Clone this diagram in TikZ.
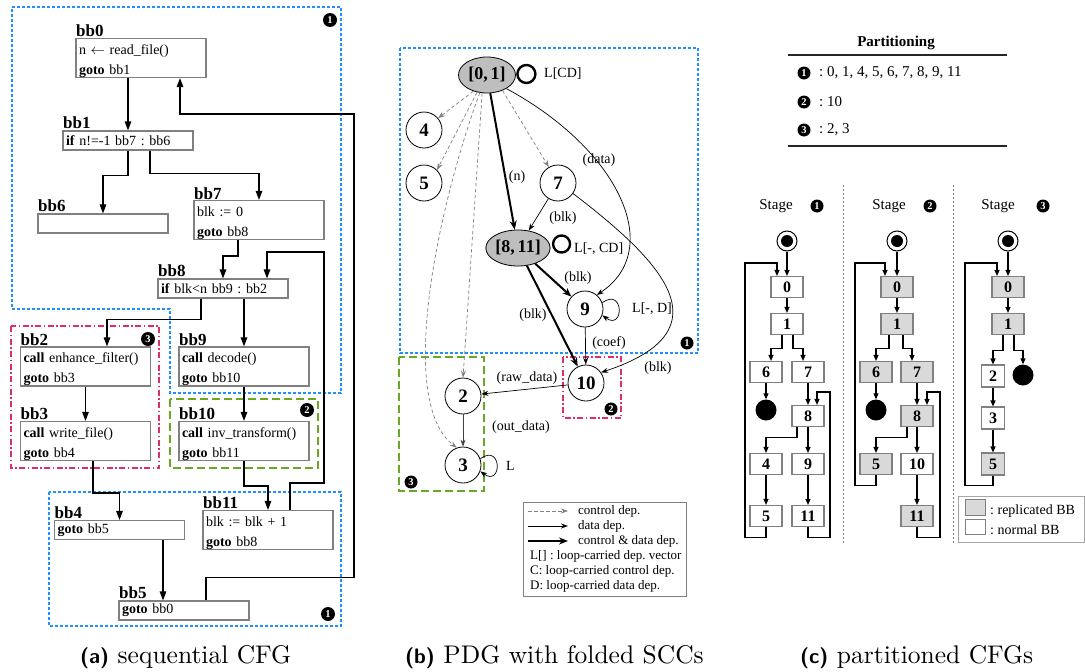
\documentclass[tikz,border=0pt]{standalone}
\usepackage{fontspec}
\newfontfamily\tms{Liberation Serif}
\newfontfamily\capfont{lmroman10-regular.otf}
\newfontfamily\capsf{lmsans10-bold.otf}
\usetikzlibrary{arrows.meta,calc,shapes.geometric}
\definecolor{bluebox}{RGB}{30,144,255}
\definecolor{pinkbox}{RGB}{222,45,110}
\definecolor{greenbox}{RGB}{104,168,36}
\definecolor{boxgray}{RGB}{128,128,128}
\definecolor{repl}{RGB}{217,217,217}
\definecolor{ellgray}{RGB}{190,190,190}
\newcommand\cfgtwo[2]{\parbox[c][36pt][b]{124pt}{#1\\#2}}
\frenchspacing
\begin{document}
\frenchspacing
\begin{tikzpicture}[x=1pt,y=-1pt,font=\tms,
  cfgbox/.style={draw=boxgray, line width=1.1pt, fill=white, minimum width=130pt, inner sep=0pt, text width=124pt, align=left, font=\tms\fontsize{14}{20}\selectfont},
  bblab/.style={font=\tms\bfseries\fontsize{17}{17}\selectfont, inner sep=0pt, anchor=base west},
  num/.style={circle, fill=black, inner sep=0pt, minimum size=14pt, text=white, font=\tms\bfseries\fontsize{10.5}{10.5}\selectfont},
  arr/.style={line width=1.3pt, -{Triangle[length=9pt,width=6.5pt]}},
  bluedash/.style={draw=bluebox, line width=1.1pt, dash pattern=on 3pt off 2pt},
  pinkdash/.style={draw=pinkbox, line width=1.1pt, dash pattern=on 6pt off 2.5pt on 1.5pt off 2.5pt},
  greendash/.style={draw=greenbox, line width=1.4pt, dash pattern=on 8pt off 4pt},
  pn/.style={circle, draw, line width=0.8pt, minimum size=36pt, inner sep=0pt, fill=white, font=\tms\bfseries\fontsize{19}{19}\selectfont},
  pe/.style={ellipse, draw, line width=0.8pt, fill=ellgray, minimum width=57pt, minimum height=36pt, inner sep=0pt, font=\tms\bfseries\fontsize{18}{18}\selectfont},
  ctrl/.style={gray, line width=0.7pt, dash pattern=on 3.5pt off 2.5pt, -{Stealth[length=7pt,width=5pt]}},
  dat/.style={line width=0.7pt, -{Stealth[length=7pt,width=5pt]}},
  bothdep/.style={line width=2pt, -{Stealth[length=9pt,width=7pt]}},
  thickloop/.style={line width=2.4pt},
  elab/.style={font=\tms\fontsize{14}{14}\selectfont, inner sep=0pt},
  legtxt/.style={font=\tms\fontsize{13}{13}\selectfont, inner sep=0pt, anchor=west},
  cb/.style={draw=boxgray, line width=1.1pt, fill=white, minimum width=32pt, minimum height=21pt, inner sep=0pt, font=\tms\bfseries\fontsize{16}{16}\selectfont},
  rb/.style={cb, fill=repl},
  sb/.style={cb, minimum width=23pt, minimum height=22pt},
  startn/.style={circle, draw, line width=1pt, minimum size=20pt, inner sep=0pt, fill=white},
  dotn/.style={circle, fill=black, minimum size=12pt, inner sep=0pt},
  endn/.style={circle, fill=black, minimum size=21pt, inner sep=0pt},
  carr/.style={line width=1.1pt, -{Triangle[length=6pt,width=5pt]}},
  sepline/.style={gray, line width=0.7pt, dash pattern=on 2pt off 2pt},
  captxt/.style={font=\capfont\fontsize{25.5}{27}\selectfont, inner sep=0pt, anchor=base west}
]
\useasboundingbox (0,0) rectangle (1085,672);

% ---------------- (a) sequential CFG ----------------
\draw[bluedash] (12,7) -- (341,7) -- (341,393) -- (170,393) -- (170,309) -- (12,309) -- cycle;
\draw[bluedash] (49,492) rectangle (341,626);
\draw[pinkdash] (11,326) rectangle (159,468);
\draw[greendash] (170,399) rectangle (318,468);

\node[cfgbox, minimum height=38pt] (bb0) at (141,58) {\cfgtwo{n $\leftarrow$ read\_file()}{\textbf{goto} bb1}};
\node[cfgbox, minimum height=19pt] (bb1) at (128,140.5) {\textbf{if} n!=-1 bb7 : bb6};
\node[cfgbox, minimum height=19pt] (bb6) at (103,223.5) {};
\node[cfgbox, minimum height=36pt] (bb7) at (259,220) {\cfgtwo{blk := 0}{\textbf{goto} bb8}};
\node[cfgbox, minimum height=19pt] (bb8) at (223,288.5) {\textbf{if} blk<n bb9 : bb2};
\node[cfgbox, minimum height=37pt] (bb2) at (85.5,366.5) {\cfgtwo{\textbf{call} enhance\_filter()}{\textbf{goto} bb3}};
\node[cfgbox, minimum height=38pt] (bb3) at (85.5,441) {\cfgtwo{\textbf{call} write\_file()}{\textbf{goto} bb4}};
\node[cfgbox, minimum height=37pt] (bb9) at (244,366.5) {\cfgtwo{\textbf{call} decode()}{\textbf{goto} bb10}};
\node[cfgbox, minimum height=38pt] (bb10) at (244,441) {\cfgtwo{\textbf{call} inv\_transform()}{\textbf{goto} bb11}};
\node[cfgbox, minimum height=38pt] (bb11) at (268,530) {\cfgtwo{blk := blk + 1}{\textbf{goto} bb8}};
\node[cfgbox, minimum height=19pt] (bb4) at (119.5,530) {\textbf{goto} bb5};
\node[cfgbox, minimum height=19pt] (bb5) at (184,610.5) {\textbf{goto} bb0};

\node[bblab] (l0) at (76,36.5) {bb0};
\node[bblab] (l1) at (63,128.5) {bb1};
\node[bblab] (l6) at (38,211.5) {bb6};
\node[bblab] (l7) at (194,199.5) {bb7};
\node[bblab] (l8) at (158,276.5) {bb8};
\node[bblab] (l2) at (20.5,345.5) {bb2};
\node[bblab] (l3) at (20.5,419.5) {bb3};
\node[bblab] (l9) at (179,345.5) {bb9};
\node[bblab] (l10) at (179,419.5) {bb10};
\node[bblab] (l11) at (203,508.5) {bb11};
\node[bblab] (l4) at (54.5,518.5) {bb4};
\node[bblab] (l5) at (119,598.5) {bb5};

\draw[arr] (bb0.south -| bb1.north) -- (bb1.north);
\draw[arr] (bb1.south) -- ++(0,25) -| (bb6.north);
\draw[arr] ([xshift=22pt]bb1.south) -- ++(0,23) -| (bb7.north);
\draw[arr] ([xshift=-21pt]bb7.south) -- ++(0,16) -| (bb8.north);
\draw[arr] ([xshift=22pt]bb11.north) -- ++(0,-27) -| (324,252) -| ([xshift=44pt]bb8.north);
\draw[arr] ([xshift=-22pt]bb8.south) -- ++(0,21) -| ([xshift=21.5pt]bb2.north);
\draw[arr] (bb8.south -| bb9.north) -- (bb9.north);
\draw[arr] (bb2) -- (bb3);
\draw[arr] (bb9) -- (bb10);
\draw[arr] ([xshift=7.5pt]bb3.south) -- ++(0,32) -| (bb4.north);
\draw[arr] (bb10.south) -- ++(0,25) -| (bb11.north);
\draw[arr] ([xshift=43.5pt]bb4.south) -- ([xshift=-21pt]bb5.north);
\draw[arr] ([xshift=22pt]bb5.north) -- ++(0,-23) -| (354,114) -| ([xshift=39pt]bb0.south);

\node[num] (ca1) at (330,20) {1};
\node[num] (ca1b) at (328,614) {1};
\node[num] (ca3) at (148,339) {3};
\node[num] (ca2) at (307,410) {2};

% ---------------- (b) PDG ----------------
\draw[bluedash] (400,48) rectangle (698,353);
\draw[pinkdash] (563,357) rectangle (621,418);
\draw[greendash] (399,357) rectangle (484,491);

\node[pe] (n01) at (487,75) {[0,\,1]};
\node[pn] (n4) at (424,130) {4};
\node[pn] (n5) at (424,183) {5};
\node[pn] (n7) at (558,183) {7};
\node[pe] (n811) at (518,248) {[8,\,11]};
\node[pn] (n9) at (585,309) {9};
\node[pn] (n10) at (586,383) {10};
\node[pn] (n2) at (463,396) {2};
\node[pn] (n3) at (463,465) {3};

\draw[ctrl] (n01.-130) -- (n4.40);
\draw[ctrl] (n01.-120) -- (n5.45);
\draw[ctrl] (n01.-45) -- (n7.120);
\draw[ctrl] (n01.-105) -- (n2.north);
\draw[ctrl] (n01.-112) .. controls (440,200) and (395,400) .. (n3.110);
\draw[bothdep] (n01) -- (n811);
\draw[dat] (n01.-35) .. controls (620,150) and (665,250) .. (n9.50);
\draw[dat] (n7) -- (n811);
\draw[dat] (n7.-35) .. controls (660,260) and (730,330) .. (n10.35);
\draw[bothdep] (n811) -- (n9);
\draw[bothdep] (n811) -- (n10);
\draw[dat] (n9) -- (n10);
\draw[dat] (n10) -- (n2);
\draw[dat, black!75] (n2) -- (n3);

\draw[thickloop] ($(n01.east)+(10.5,-1)$) circle[radius=9pt];
\draw[thickloop] ($(n811.east)+(11,-4)$) circle[radius=8.5pt];
\draw[dat] (n9.20) .. controls +(22,-16) and +(22,16) .. (n9.-20);
\draw[dat] (n3.20) .. controls +(22,-16) and +(22,16) .. (n3.-20);

\node[elab, anchor=west] (lcd) at (544,74) {L[CD]};
\node[elab, anchor=west] (lcd2) at (574,249) {L[-, CD]};
\node[elab, anchor=west] (ld) at (632,309) {L[-, D]};
\node[elab, anchor=west] (ll) at (506,466) {L};
\node[elab] (en) at (517,177) {(n)};
\node[elab] (edata) at (599,160) {(data)};
\node[elab] (eb1) at (563,218) {(blk)};
\node[elab] (eb2) at (578,278) {(blk)};
\node[elab] (eb3) at (533,315) {(blk)};
\node[elab] (ecoef) at (609,343) {(coef)};
\node[elab] (eb4) at (658,368) {(blk)};
\node[elab] (eraw) at (527,378) {(raw\_data)};
\node[elab] (eout) at (521,427) {(out\_data)};

\node[num, minimum size=13pt] (cb1) at (687,343) {1};
\node[num, minimum size=13pt] (cb2) at (611,409) {2};
\node[num, minimum size=13pt] (cb3) at (411,482) {3};

% legend (b)
\draw[boxgray, line width=0.8pt] (523,502) rectangle (686,596);
\coordinate (g1a) at (528,511); \coordinate (g1b) at (568,511);
\coordinate (g2a) at (528,526); \coordinate (g2b) at (568,526);
\coordinate (g3a) at (528,541); \coordinate (g3b) at (568,541);
\draw[ctrl] (g1a) -- (g1b);
\draw[dat] (g2a) -- (g2b);
\draw[bothdep] (g3a) -- (g3b);
\node[legtxt] (gt1) at (578,511) {control dep.};
\node[legtxt] (gt2) at (578,526) {data dep.};
\node[legtxt] (gt3) at (578,541) {control \& data dep.};
\node[legtxt] (gt4) at (530,556) {L[] : loop-carried dep. vector};
\node[legtxt] (gt5) at (530,571) {C: loop-carried control dep.};
\node[legtxt] (gt6) at (530,586) {D: loop-carried data dep.};

% ---------------- (c) partitioned CFGs ----------------
\node[font=\tms\bfseries\fontsize{15}{15}\selectfont, inner sep=0pt] (ptitle) at (896,43) {Partitioning};
\draw[line width=1.3pt, black!85] (788,55) -- (1007,55);
\draw[line width=1.3pt, black!85] (788,146) -- (1007,146);
\node[num, minimum size=13pt] (p1) at (804,73) {1};
\node[num, minimum size=13pt] (p2) at (804,102) {2};
\node[num, minimum size=13pt] (p3) at (804,130) {3};
\node[elab, anchor=west, font=\tms\fontsize{15}{15}\selectfont] (pt1) at (819,73) {: 0, 1, 4, 5, 6, 7, 8, 9, 11};
\node[elab, anchor=west, font=\tms\fontsize{15}{15}\selectfont] (pt2) at (819,102) {: 10};
\node[elab, anchor=west, font=\tms\fontsize{15}{15}\selectfont] (pt3) at (819,130) {: 2, 3};

\draw[sepline] (843,185) -- (843,543);
\draw[sepline] (953,185) -- (953,543);

\node[elab, font=\tms\fontsize{15}{15}\selectfont] (st1) at (776,206) {Stage};
\node[num, minimum size=13pt] (sn1) at (817,206) {1};
\node[elab, font=\tms\fontsize{15}{15}\selectfont] (st2) at (889,206) {Stage};
\node[num, minimum size=13pt] (sn2) at (930,206) {2};
\node[elab, font=\tms\fontsize{15}{15}\selectfont] (st3) at (998,206) {Stage};
\node[num, minimum size=13pt] (sn3) at (1043,206) {3};

% stage 1
\node[startn] (s1) at (787,241) {};
\node[dotn] (s1d) at (787,241) {};
\node[cb] (a0) at (787,287) {0};
\node[cb] (a1) at (787,324) {1};
\node[cb] (a6) at (766,372) {6};
\node[cb] (a7) at (808,372) {7};
\node[endn] (ae) at (766,410) {};
\node[cb] (a8) at (808,416) {8};
\node[cb] (a4) at (766,464) {4};
\node[cb] (a9) at (808,464) {9};
\node[cb] (a5) at (766,516) {5};
\node[cb] (a11) at (808,516) {11};
\draw[carr] (s1) -- (a0);
\draw[carr] (a5.south) -- ++(0,10) -| (745,263) -| ([xshift=-10pt]a0.north);
\draw[carr] (a0) -- (a1);
\draw[carr] ([xshift=-5pt]a1.south) -- ++(0,13) -| ([xshift=5pt]a6.north);
\draw[carr] ([xshift=6pt]a1.south) -- ++(0,13) -| ([xshift=-5pt]a7.north);
\draw[carr] (a6) -- (ae);
\draw[carr] (a7) -- (a8);
\draw[carr] (a11.south) -- ++(0,10) -| (830,392) -| ([xshift=9pt]a8.north);
\draw[carr] ([xshift=-11pt]a8.south) -- ++(0,10) -| (a4.north);
\draw[carr] (a8) -- (a9);
\draw[carr] (a4) -- (a5);
\draw[carr] (a9) -- (a11);

% stage 2
\node[startn] (s2) at (897,241) {};
\node[dotn] (s2d) at (897,241) {};
\node[rb] (b0) at (897,287) {0};
\node[rb] (b1) at (897,324) {1};
\node[rb] (b6) at (876,372) {6};
\node[rb] (b7) at (917,372) {7};
\node[endn] (be) at (876,410) {};
\node[rb] (b8) at (917,416) {8};
\node[rb] (b5) at (876,464) {5};
\node[cb] (b10) at (917,464) {10};
\node[rb] (b11) at (917,516) {11};
\draw[carr] (s2) -- (b0);
\draw[carr] (b5.south) -- ++(0,10) -| (855,263) -| ([xshift=-12pt]b0.north);
\draw[carr] (b0) -- (b1);
\draw[carr] ([xshift=-8pt]b1.south) -- ++(0,13) -| (b6.north);
\draw[carr] ([xshift=6pt]b1.south) -- ++(0,13) -| ([xshift=-5pt]b7.north);
\draw[carr] (b6) -- (be);
\draw[carr] (b7) -- (b8);
\draw[carr] (b11.south) -- ++(0,10) -| (940,392) -| ([xshift=10pt]b8.north);
\draw[carr] ([xshift=-10pt]b8.south) -- ++(0,10) -| (b5.north);
\draw[carr] (b8) -- (b10);
\draw[carr] (b10) -- (b11);

% stage 3
\node[startn] (s3) at (1008,241) {};
\node[dotn] (s3d) at (1008,241) {};
\node[rb] (c0) at (1008,287) {0};
\node[rb] (c1) at (1008,324) {1};
\node[sb] (c2) at (993,376) {2};
\node[endn] (ce) at (1023,375) {};
\node[sb] (c3) at (993,418) {3};
\node[sb, fill=repl] (c5) at (993,464) {5};
\draw[carr] (s3) -- (c0);
\draw[carr] (c5.south) -- ++(0,10) -| (965,263) -| ([xshift=-11pt]c0.north);
\draw[carr] (c0) -- (c1);
\draw[carr] ([xshift=-5pt]c1.south) -- ++(0,15) -| (c2.north);
\draw[carr] ([xshift=6pt]c1.south) -- ++(0,15) -| (ce.north);
\draw[carr] (c2) -- (c3);
\draw[carr] (c3) -- (c5);

% legend (c)
\draw[boxgray!70, line width=0.8pt, fill=white] (958,496) rectangle (1084,542);
\node[draw=boxgray, line width=0.8pt, fill=repl, minimum width=20pt, minimum height=16pt, inner sep=0pt] (lg1) at (975,507) {};
\node[draw=boxgray, line width=0.8pt, fill=white, minimum width=20pt, minimum height=15pt, inner sep=0pt] (lg2) at (975,526.5) {};
\node[elab, anchor=west] (lgt1) at (990,511) {: replicated BB};
\node[elab, anchor=west] (lgt2) at (990,530) {: normal BB};

% captions
\node[captxt] (capa) at (80,663) {{\capsf\fontsize{21}{23}\selectfont (a)} sequential CFG};
\node[captxt] (capb) at (405,663) {{\capsf\fontsize{21}{23}\selectfont (b)} PDG with folded SCCs};
\node[captxt] (capc) at (800,663) {{\capsf\fontsize{21}{23}\selectfont (c)} partitioned CFGs};
\end{tikzpicture}
\end{document}
